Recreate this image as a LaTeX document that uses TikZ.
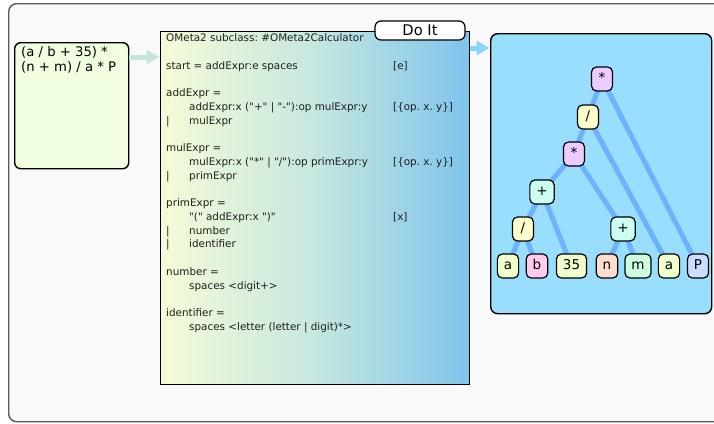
\documentclass[tikz,border=0pt]{standalone}
\usepackage{fontspec}
\setmainfont{DejaVu Sans}[Ligatures=TeXOff]
\usetikzlibrary{arrows.meta}
\pgfdeclarelayer{back}
\pgfdeclarelayer{edges}
\pgfsetlayers{back,edges,main}
\definecolor{framefill}{RGB}{249,249,249}
\definecolor{framedraw}{RGB}{90,90,90}
\definecolor{inputfill}{RGB}{239,255,223}
\definecolor{gramleft}{RGB}{245,251,214}
\definecolor{grammid}{RGB}{198,231,224}
\definecolor{gramright}{RGB}{126,196,236}
\definecolor{treefill}{RGB}{153,221,255}
\definecolor{edgeblue}{RGB}{108,178,255}
\definecolor{arrowone}{RGB}{196,230,222}
\definecolor{arrowtwo}{RGB}{136,212,250}
\definecolor{starfill}{RGB}{236,204,255}
\definecolor{slashfill}{RGB}{255,255,204}
\definecolor{plusfill}{RGB}{204,255,240}
\definecolor{afill}{RGB}{240,255,204}
\definecolor{bfill}{RGB}{255,204,240}
\definecolor{nfill}{RGB}{255,221,204}
\definecolor{mfill}{RGB}{204,255,221}
\definecolor{pfill}{RGB}{204,221,255}
\frenchspacing
\begin{document}
\frenchspacing
\begin{tikzpicture}[x=1pt,y=-1pt,
  codetext/.style={anchor=base west, inner sep=0pt, font=\fontsize{10.4}{12}\selectfont, text=black!88},
  tnode/.style={draw=black, line width=1.2pt, rounded corners=5pt, minimum width=21pt, minimum height=24pt,
    inner xsep=6.5pt, inner ysep=0pt, text height=9.8pt, text depth=2.8pt, font=\fontsize{13.5}{16}\selectfont},
  treeedge/.style={draw=edgeblue, line width=5pt},
  flowarrow/.style={line width=5pt, -{Triangle[length=13pt,width=14pt]}, shorten >=0.5pt},
  panel/.style={draw=black, line width=1.4pt, inner sep=0pt}
]
\useasboundingbox (0,0) rectangle (714,423);
\clip (0,0) rectangle (714,423);

\begin{pgfonlayer}{back}
\node[draw=framedraw, line width=1.4pt, fill=framefill, rounded corners=8pt, minimum width=740pt, minimum height=418pt, inner sep=0pt, anchor=north west] (frame) at (8,3) {};
% tree panel
\node[panel, fill=treefill, rounded corners=7pt, minimum width=221pt, minimum height=280pt, anchor=north west] (tree) at (490,33) {};
\end{pgfonlayer}

% input
\node[panel, fill=inputfill, rounded corners=6pt, minimum width=114pt, minimum height=126pt, anchor=north west] (input) at (14,42) {};
\node[anchor=base west, inner sep=0pt, font=\fontsize{13.2}{15}\selectfont] (in1) at (21,56) {(a / b + 35) *};
\node[anchor=base west, inner sep=0pt, font=\fontsize{13.2}{15}\selectfont] (in2) at (21,71) {(n + m) / a * P};

% grammar
\node[panel, left color=gramleft, right color=gramright, middle color=grammid, minimum width=309pt, minimum height=353pt, anchor=north west] (grammar) at (160,31) {};
\node[codetext] (l0) at (166,41.5) {OMeta2 subclass: \#OMeta2Calculator};
\node[codetext] (l2) at (166,69) {start = addExpr:e spaces};
\node[codetext] (l4) at (166,96.5) {addExpr =};
\node[codetext] (l5) at (166,110.25) {\hspace*{23pt}addExpr:x ("+" | "-"):op mulExpr:y};
\node[codetext] (l6) at (166,124) {\makebox[23pt][l]{|}mulExpr};
\node[codetext] (l8) at (166,151.5) {mulExpr =};
\node[codetext] (l9) at (166,165.25) {\hspace*{23pt}mulExpr:x ("*" | "/"):op primExpr:y};
\node[codetext] (l10) at (166,179) {\makebox[23pt][l]{|}primExpr};
\node[codetext] (l12) at (166,206.5) {primExpr =};
\node[codetext] (l13) at (166,220.25) {\hspace*{23pt}"(" addExpr:x ")"};
\node[codetext] (l14) at (166,234) {\makebox[23pt][l]{|}number};
\node[codetext] (l15) at (166,247.75) {\makebox[23pt][l]{|}identifier};
\node[codetext] (l17) at (166,275.25) {number =};
\node[codetext] (l18) at (166,289) {\hspace*{23pt}spaces <digit+>};
\node[codetext] (l20) at (166,316.5) {identifier =};
\node[codetext] (l21) at (166,330.25) {\hspace*{23pt}spaces <letter (letter | digit)*>};
\node[codetext] (r2) at (393,69) {[e]};
\node[codetext] (r5) at (393,110.25) {[\{op. x. y\}]};
\node[codetext] (r9) at (393,165.25) {[\{op. x. y\}]};
\node[codetext] (r13) at (393,220.25) {[x]};

\node[draw=black, line width=1.2pt, fill=white, rounded corners=6pt, minimum width=90pt, minimum height=19pt, inner sep=0pt, font=\fontsize{14.7}{16}\selectfont] (doit) at (420,30.5) {Do It};

% arrows
\draw[flowarrow, draw=arrowone] ([yshift=-15pt]input.north east) -- ([yshift=-15pt]input.north east -| grammar.west);
\draw[flowarrow, draw=arrowtwo] ([yshift=-17pt]grammar.north east) -- ([yshift=-17pt]grammar.north east -| tree.west);

% tree nodes
\node[tnode, fill=starfill] (t1) at (602,79) {*};
\node[tnode, fill=slashfill] (t2) at (588,117) {/};
\node[tnode, fill=starfill] (t3) at (574,154) {*};
\node[tnode, fill=plusfill] (t4) at (542,192) {+};
\node[tnode, fill=slashfill] (t5) at (523,229) {/};
\node[tnode, fill=plusfill] (t6) at (623,229) {+};
\node[tnode, fill=afill] (la) at (508,266) {a};
\node[tnode, fill=bfill] (lb) at (537,266) {b};
\node[tnode, fill=afill] (l35) at (571.5,266) {35};
\node[tnode, fill=nfill] (ln) at (607,266) {n};
\node[tnode, fill=mfill] (lm) at (638,266) {m};
\node[tnode, fill=afill] (la2) at (669,266) {a};
\node[tnode, fill=pfill] (lp) at (698,266) {P};

\begin{pgfonlayer}{edges}
\draw[treeedge] (t1.center) -- (t2.center);
\draw[treeedge] (t1.center) -- (lp.center);
\draw[treeedge] (t2.center) -- (t3.center);
\draw[treeedge] (t2.center) -- (la2.center);
\draw[treeedge] (t3.center) -- (t4.center);
\draw[treeedge] (t3.center) -- (t6.center);
\draw[treeedge] (t4.center) -- (t5.center);
\draw[treeedge] (t4.center) -- (l35.center);
\draw[treeedge] (t5.center) -- (la.center);
\draw[treeedge] (t5.center) -- (lb.center);
\draw[treeedge] (t6.center) -- (ln.center);
\draw[treeedge] (t6.center) -- (lm.center);
\end{pgfonlayer}
\end{tikzpicture}
\end{document}
